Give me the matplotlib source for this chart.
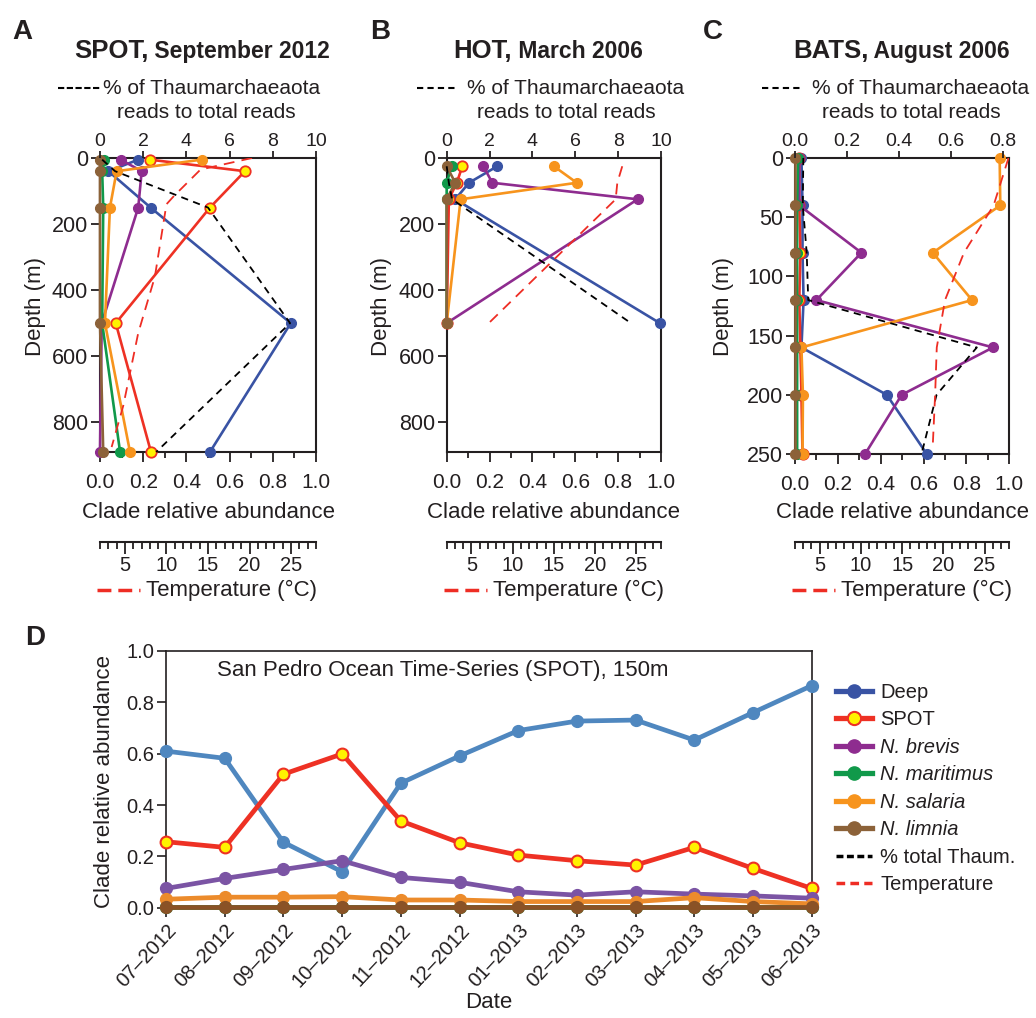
import matplotlib
matplotlib.use('Agg')
import matplotlib.pyplot as plt
from matplotlib.lines import Line2D
from matplotlib.ticker import MultipleLocator

plt.rcParams['font.family'] = ['Liberation Sans', 'DejaVu Sans']
INK = '#231f20'
plt.rcParams['text.color'] = INK
plt.rcParams['axes.edgecolor'] = INK
plt.rcParams['xtick.color'] = INK
plt.rcParams['ytick.color'] = INK

# A - SPOT, September 2012
spot_depth = [5, 40, 150, 500, 890]
spot_deep = [0.177, 0.039, 0.234, 0.883, 0.509]
spot_spot = [0.231, 0.671, 0.509, 0.073, 0.236]
spot_brevis = [0.096, 0.193, 0.177, 0.008, 0.0]
spot_maritimus = [0.02, 0.01, 0.015, 0.01, 0.093]
spot_salaria = [0.47, 0.077, 0.046, 0.023, 0.139]
spot_limnia = [0.0, 0.0, 0.0, 0.0, 0.015]
spot_thaum = [0.1, 0.7, 5.0, 8.8, 2.6]
spot_temp_depth = [0, 35, 115, 140, 360, 530, 750, 875]
spot_temp = [20.3, 14.1, 10.9, 10.0, 8.6, 6.6, 4.8, 3.4]

# B - HOT, March 2006
hot_depth = [25, 75, 125, 500]
hot_deep = [0.236, 0.104, 0.04, 0.995]
hot_spot = [0.073, 0.047, 0.01, 0.0]
hot_brevis = [0.171, 0.213, 0.891, 0.0]
hot_maritimus = [0.023, 0.0, 0.0, 0.0]
hot_salaria = [0.50, 0.607, 0.065, 0.0]
hot_limnia = [0.0, 0.04, 0.0, 0.0]
hot_thaum = [0.0, 0.1, 0.25, 8.6]
hot_temp = [23.3, 22.7, 22.5, 7.1]

# C - BATS, August 2006
bats_depth = [0, 40, 80, 120, 160, 200, 250]
bats_deep = [0.03, 0.035, 0.035, 0.04, 0.03, 0.428, 0.615]
bats_spot = [0.02, 0.02, 0.025, 0.02, 0.025, 0.03, 0.035]
bats_brevis = [0.02, 0.02, 0.31, 0.10, 0.924, 0.498, 0.327]
bats_maritimus = [0.015, 0.01, 0.01, 0.01, 0.01, 0.01, 0.01]
bats_salaria = [0.955, 0.958, 0.643, 0.826, 0.03, 0.037, 0.035]
bats_limnia = [0.0, 0.0, 0.0, 0.0, 0.0, 0.0, 0.0]
bats_thaum = [0.032, 0.03, 0.045, 0.051, 0.70, 0.545, 0.487]
bats_temp_depth = [0, 40, 80, 120, 160, 200, 245]
bats_temp = [27.9, 26.1, 22.5, 20.2, 19.2, 19.0, 18.7]

# D - SPOT time series, 150 m
months = ['07–2012', '08–2012', '09–2012', '10–2012', '11–2012', '12–2012',
          '01–2013', '02–2013', '03–2013', '04–2013', '05–2013', '06–2013']
ts_deep = [0.61, 0.582, 0.255, 0.14, 0.485, 0.591, 0.69, 0.727, 0.731, 0.653, 0.76, 0.865]
ts_spot = [0.257, 0.235, 0.52, 0.599, 0.338, 0.253, 0.205, 0.183, 0.166, 0.235, 0.153, 0.075]
ts_brevis = [0.075, 0.114, 0.149, 0.183, 0.118, 0.099, 0.062, 0.049, 0.062, 0.053, 0.046, 0.037]
ts_maritimus = [0.003, 0.003, 0.003, 0.003, 0.003, 0.003, 0.003, 0.003, 0.003, 0.003, 0.003, 0.003]
ts_salaria = [0.033, 0.041, 0.041, 0.043, 0.030, 0.030, 0.024, 0.024, 0.024, 0.039, 0.024, 0.015]
ts_limnia = [0.002, 0.002, 0.002, 0.002, 0.002, 0.002, 0.002, 0.002, 0.002, 0.002, 0.002, 0.002]

clades = ['Deep', 'SPOT', 'N. brevis', 'N. maritimus', 'N. salaria', 'N. limnia']
colors = ['#3953a4', '#ee3124', '#8e2c8f', '#10994a', '#f7941d', '#8c6239']
colors_ts = ['#4f87bf', '#ee3124', '#7b54a4', '#10994a', '#ec8b2b', '#8a5226']
YELLOW = '#fff200'
TRED = '#ee2d24'

W, H = 1036, 1018
fig = plt.figure(figsize=(W / 100, H / 100), dpi=100)


def fx(x):
    return x / W


def fy(y):
    return 1 - y / H


def box(l, t, r, b):
    return [fx(l), fy(b), (r - l) / W, (b - t) / H]


def profile(rect, depth, values, pct, pct_lim, pct_step, pct_fmt, temp_depth, temp, ymax, ystep):
    ax = fig.add_axes(rect)
    for vals, c, name in zip(values, colors, clades):
        if name == 'SPOT':
            ax.plot(vals, depth, color=c, lw=1.9, marker='o', ms=7.5, mfc=YELLOW,
                    mec=c, mew=1.3, clip_on=False, zorder=3)
        else:
            ax.plot(vals, depth, color=c, lw=1.9, marker='o', ms=7,
                    clip_on=False, zorder=3)
    ax.set_xlim(0, 1)
    ax.set_ylim(ymax, 0)
    ax.xaxis.set_major_locator(MultipleLocator(0.2))
    ax.xaxis.set_minor_locator(MultipleLocator(0.1))
    ax.xaxis.set_major_formatter('{x:.1f}')
    ax.yaxis.set_major_locator(MultipleLocator(ystep))
    ax.tick_params(axis='x', which='major', length=7, width=1.3, labelsize=15, pad=8)
    ax.tick_params(axis='x', which='minor', length=4, width=1.3)
    ax.tick_params(axis='y', length=6.5, width=1.3, labelsize=15.5, pad=2)
    for s in ax.spines.values():
        s.set_linewidth(1.5)

    top = ax.twiny()
    top.plot(pct, depth, color='k', lw=1.3, ls=(0, (4, 3)), clip_on=False)
    top.set_xlim(0, pct_lim)
    top.xaxis.set_major_locator(MultipleLocator(pct_step))
    top.xaxis.set_major_formatter(pct_fmt)
    top.tick_params(axis='x', length=4.8, width=1.3, labelsize=14, pad=1)
    for s in top.spines.values():
        s.set_visible(False)

    tmp = ax.twiny()
    tmp.plot(temp, temp_depth, color=TRED, lw=1.3, ls=(0, (6, 4)))
    tmp.set_xlim(2, 28)
    tmp.axis('off')
    return ax, top


def temp_scale(left, right, y):
    sax = fig.add_axes([fx(left), fy(y), (right - left) / W, 1e-4])
    sax.set_xlim(2, 28)
    sax.set_xticks([5, 10, 15, 20, 25])
    sax.xaxis.set_minor_locator(MultipleLocator(1))
    sax.set_yticks([])
    for k in ['left', 'right', 'top']:
        sax.spines[k].set_visible(False)
    sax.spines['bottom'].set_linewidth(1.5)
    sax.patch.set_visible(False)
    sax.tick_params(axis='x', which='major', length=8.5, width=1.3, labelsize=14.5, pad=2)
    sax.tick_params(axis='x', which='minor', length=4.8, width=1.3)
    # legend-like label under the scale
    fig.add_artist(Line2D([fx(left - 3), fx(left + 40)], [fy(590), fy(590)],
                          color=TRED, lw=2.5, ls=(0, (4, 2, 4, 2, 1, 3))))
    fig.text(fx(left + 46), fy(590), 'Temperature (°C)', ha='left', va='center', fontsize=16)


panels = [
    dict(rect=box(100, 158, 316, 452), depth=spot_depth,
         values=[spot_deep, spot_spot, spot_brevis, spot_maritimus, spot_salaria, spot_limnia],
         pct=spot_thaum, pct_lim=10, pct_step=2, pct_fmt='{x:.0f}', temp_depth=spot_temp_depth,
         temp=spot_temp, ymax=890, ystep=200),
    dict(rect=box(446.7, 158, 661, 452), depth=hot_depth,
         values=[hot_deep, hot_spot, hot_brevis, hot_maritimus, hot_salaria, hot_limnia],
         pct=hot_thaum, pct_lim=10, pct_step=2, pct_fmt='{x:.0f}', temp_depth=hot_depth,
         temp=hot_temp, ymax=890, ystep=200),
    dict(rect=box(795, 158, 1009.3, 454), depth=bats_depth,
         values=[bats_deep, bats_spot, bats_brevis, bats_maritimus, bats_salaria, bats_limnia],
         pct=bats_thaum, pct_lim=0.825, pct_step=0.2, pct_fmt='{x:.1f}', temp_depth=bats_temp_depth,
         temp=bats_temp, ymax=250, ystep=50),
]

titles = [('A', 'SPOT,', ' September 2012', 12, 74), ('B', 'HOT,', ' March 2006', 370, 453),
          ('C', 'BATS,', ' August 2006', 703, 793)]
headers = [(58, 100, 103, 206, (0, (3, 1.2))), (417, 455, 467, 566, (0, (3, 2))),
           (762, 800, 812, 911, (0, (3, 2)))]
ylabel_x = [29, 374, 716]

for p, (letter, name, rest, lx, tx), (d0, d1, hx, h2x, dash), yx in zip(panels, titles, headers, ylabel_x):
    ax, top = profile(**p)
    pos = ax.get_position()
    left_px = pos.x0 * W
    right_px = pos.x1 * W
    fig.text(fx(lx), fy(39), letter, fontsize=20, fontweight='bold', ha='left', va='baseline')
    t1 = fig.text(fx(tx), fy(58), name, fontsize=18.5, fontweight='bold', ha='left', va='baseline')
    ax.annotate(rest, xy=(1, 0), xycoords=t1, fontsize=16.5, fontweight='bold',
                ha='left', va='bottom', annotation_clip=False)
    fig.add_artist(Line2D([fx(d0), fx(d1)], [fy(88), fy(88)], color='k', lw=1.5, ls=dash))
    fig.text(fx(hx), fy(88), '% of Thaumarchaeaota', ha='left', va='center', fontsize=15)
    fig.text(fx(h2x), fy(112), 'reads to total reads', ha='center', va='center', fontsize=15)
    fig.text(fx(yx + 7), fy(307), 'Depth (m)', rotation=90, ha='center', va='center', fontsize=16)
    fig.text(fx((left_px + right_px) / 2), fy(512), 'Clade relative abundance',
             ha='center', va='center', fontsize=16)
    temp_scale(left_px, right_px, 541.5)

# panel D
axd = fig.add_axes(box(166, 651, 811.7, 907.7))
xs = list(range(len(months)))
for vals, c, name in zip([ts_deep, ts_spot, ts_brevis, ts_maritimus, ts_salaria, ts_limnia],
                         colors_ts, clades):
    if name == 'SPOT':
        axd.plot(xs, vals, color=c, lw=3.4, marker='o', ms=8.5, mfc=YELLOW, mec=c,
                 mew=1.5, clip_on=False, zorder=3)
    else:
        axd.plot(xs, vals, color=c, lw=3.4, marker='o', ms=8.5, clip_on=False, zorder=3)
axd.set_xlim(0, len(months) - 1)
axd.set_ylim(0, 1)
axd.set_xticks(xs)
axd.set_xticklabels(months, rotation=47, ha='right', rotation_mode='anchor', fontsize=14.5)
axd.yaxis.set_major_locator(MultipleLocator(0.2))
axd.yaxis.set_major_formatter('{x:.1f}')
axd.tick_params(axis='y', length=6.5, width=1.2, labelsize=14.5, pad=2)
axd.tick_params(axis='x', length=6.5, width=1.2, pad=3)
for s in axd.spines.values():
    s.set_linewidth(1.2)
axd.text((217 - 166) / 645.7, 0.923, 'San Pedro Ocean Time-Series (SPOT), 150m',
         transform=axd.transAxes, ha='left', va='center', fontsize=16)
fig.text(fx(25), fy(645), 'D', fontsize=20, fontweight='bold', ha='left', va='baseline')
fig.text(fx(105), fy(781), 'Clade relative abundance', rotation=90, ha='center',
         va='center', fontsize=16)
fig.text(fx(489), fy(1003), 'Date', ha='center', va='center', fontsize=16)

handles = []
for c, name in zip(colors, clades):
    if name == 'SPOT':
        handles.append(Line2D([], [], color=c, lw=3.8, marker='o', ms=9.5, mfc=YELLOW,
                              mec=c, mew=1.5))
    else:
        handles.append(Line2D([], [], color=c, lw=3.8, marker='o', ms=9.5))
handles.append(Line2D([], [], color='k', lw=2.5, ls=(0, (2, 1))))
handles.append(Line2D([], [], color=TRED, lw=2.5, ls=(0, (2.5, 1.5))))
labels = clades + ['% total Thaum.', 'Temperature']
leg = fig.legend(handles, labels, loc='upper left', bbox_to_anchor=(fx(836), fy(683)),
                 frameon=False, fontsize=14.5, handlelength=1.8, handletextpad=0.4,
                 labelspacing=0.42, borderpad=0, borderaxespad=0)
for t in leg.get_texts():
    if t.get_text().startswith('N. '):
        t.set_style('italic')

fig.savefig('out.png', dpi=100)
